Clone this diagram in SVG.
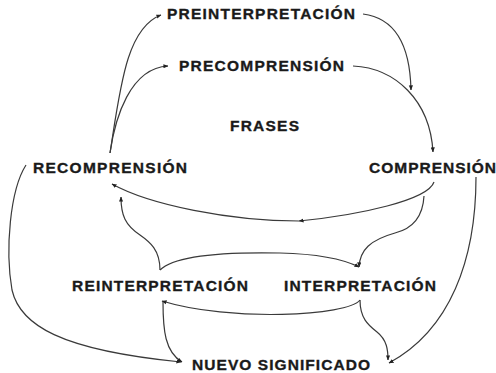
<svg xmlns="http://www.w3.org/2000/svg" width="496" height="373" viewBox="0 0 496 373">
<style>
.lbl{font-family:"Liberation Sans",Arial,sans-serif;font-weight:bold;font-size:15.5px;fill:#1a1a1a;stroke:#1a1a1a;stroke-width:0.35;}
.c{fill:none;stroke:#3a3a3a;stroke-width:1.2;marker-end:url(#ah);}
</style>
<defs>
<marker id="ah" viewBox="0 0 6 6" refX="5.5" refY="3" markerWidth="5" markerHeight="5" markerUnits="userSpaceOnUse" orient="auto">
<path d="M0,0.5 L6,3 L0,5.5 z" fill="#222"/>
</marker>
</defs>
<rect width="496" height="373" fill="#fff"/>
<g id="connectors">
<path class="c" d="M110,153 C120,90 126,28 161,15"/>
<path class="c" d="M110,153 C115,118 130,68 168,66"/>
<path class="c" d="M363,14 C395,18 410,45 411,90"/>
<path class="c" d="M353,66 C395,68 430,100 433,152"/>
<path class="c" d="M434,182 C428,200 360,215 299,221"/>
<path class="c" d="M299,221 C230,221 150,205 112,184"/>
<path class="c" d="M424,196 C423,215 415,228 395,233 C370,240 360,250 359,267"/>
<path class="c" d="M160,270 C160,250 150,242 140,235 C125,225 121,215 121,197"/>
<path class="c" d="M160,270 C175,255 230,252 280,253 C320,254 345,260 359,267"/>
<path class="c" d="M360,300 C348,316 230,322 162,301"/>
<path class="c" d="M360,300 C360,318 368,325 377,332 C387,340 388,350 388,360"/>
<path class="c" d="M163,302 C163,330 165,352 182,362"/>
<path class="c" d="M26,165 C10,190 5,250 12,290 C20,325 60,350 181,362"/>
<path class="c" d="M476,177 C476,260 450,330 389,363"/>
</g>
<g id="preinterpretacion"><text class="lbl" x="167" y="19" textLength="188" lengthAdjust="spacing">PREINTERPRETACIÓN</text></g>
<g id="precomprension"><text class="lbl" x="179" y="70.5" textLength="165" lengthAdjust="spacing">PRECOMPRENSIÓN</text></g>
<g id="frases"><text class="lbl" x="230" y="131" textLength="69" lengthAdjust="spacing">FRASES</text></g>
<g id="recomprension"><text class="lbl" x="33" y="173" textLength="154" lengthAdjust="spacing">RECOMPRENSIÓN</text></g>
<g id="comprension"><text class="lbl" x="369" y="173" textLength="127" lengthAdjust="spacing">COMPRENSIÓN</text></g>
<g id="reinterpretacion"><text class="lbl" x="72" y="290.5" textLength="176" lengthAdjust="spacing">REINTERPRETACIÓN</text></g>
<g id="interpretacion"><text class="lbl" x="284" y="290.5" textLength="152" lengthAdjust="spacing">INTERPRETACIÓN</text></g>
<g id="nuevo-significado"><text class="lbl" x="192" y="369.5" textLength="178" lengthAdjust="spacing">NUEVO SIGNIFICADO</text></g>
</svg>
